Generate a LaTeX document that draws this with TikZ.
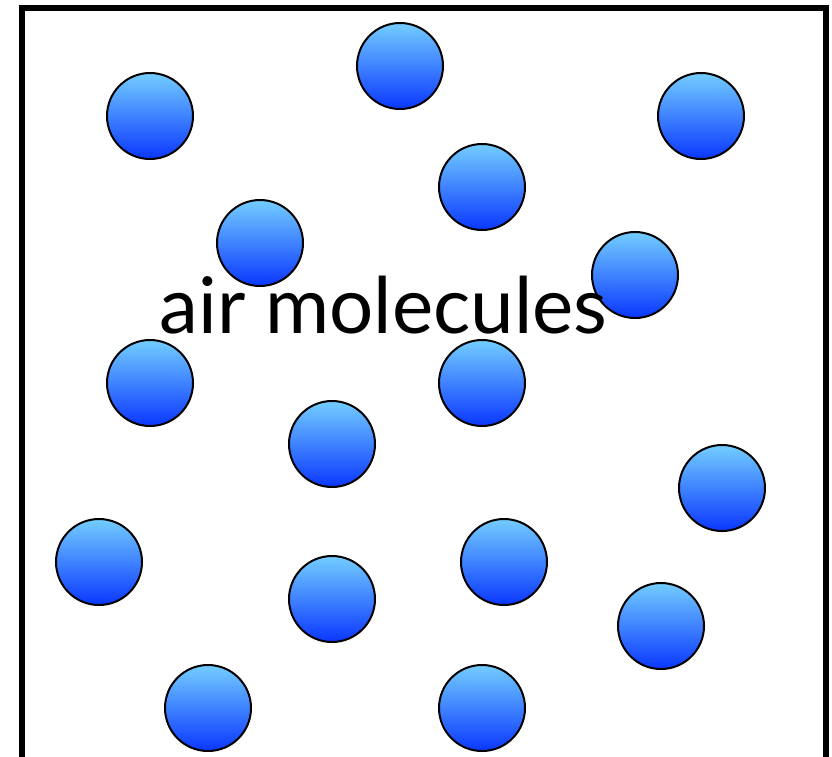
\documentclass[tikz,border=0pt]{standalone}
\usepackage{fontspec}
\setmainfont{Lato}
\usepackage{tikz}
\definecolor{moltop}{RGB}{115,205,255}
\definecolor{molbot}{RGB}{10,55,255}

\begin{document}
\begin{tikzpicture}[
    x=1pt, y=-1pt,
    molecule/.style={circle, draw=black, line width=2pt, minimum size=86pt,
      inner sep=0pt, top color=moltop, bottom color=molbot},
    wall/.style={draw=black, line width=6pt},
    lbl/.style={font=\fontsize{78}{78}\selectfont, anchor=base, inner sep=0pt}
  ]
  \useasboundingbox (0,0) rectangle (832,756);
  % container
  \coordinate (bl) at (22,760);
  \coordinate (tl) at (22,7.5);
  \coordinate (tr) at (826,7.5);
  \coordinate (br) at (826,760);
  \draw[wall] (bl) -- (tl) -- (tr) -- (br);
  % molecules
  \foreach \i/\px/\py in {1/400/66, 2/150/116, 3/701/116, 4/482/187,
      5/260/243, 6/635/275, 7/150/383, 8/482/383, 9/332/444, 10/722/488,
      11/99/562, 12/504/562, 13/332/599, 14/661/626, 15/208/708, 16/482/708}
    \node[molecule] (m\i) at (\px,\py) {};
  \node[lbl] (label) at (383.5,333) {air molecules};
\end{tikzpicture}
\end{document}
